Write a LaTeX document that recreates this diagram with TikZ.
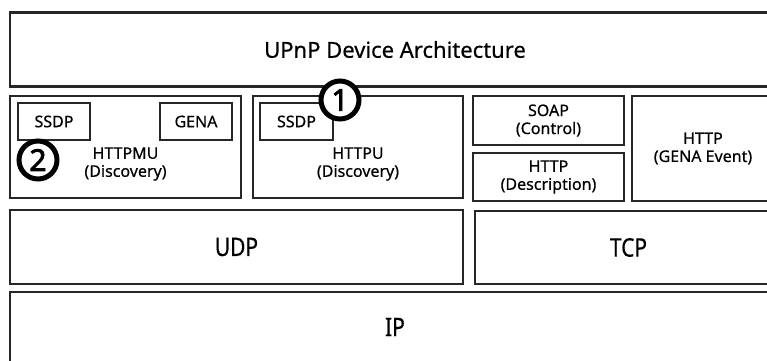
\documentclass[tikz,border=0pt]{standalone}
\usepackage{fontspec}
\setmainfont{Noto Sans}[BoldFont={Noto Sans}, BoldFeatures={FakeBold=0.5}]
\newfontfamily\markfont{Noto Sans}[BoldFont={Noto Sans}, BoldFeatures={FakeBold=2.6}]
\usepackage{graphicx}
\begin{document}
\begin{tikzpicture}[x=1pt,y=-1pt,
  layer/.style={draw=black!85, line width=2.8pt, rectangle, inner sep=0pt,
    align=center, font=\bfseries\fontsize{16}{18}\selectfont},
  sub/.style={layer, line width=2.3pt},
  label/.style={align=center, font=\bfseries\fontsize{16}{18}\selectfont},
  big/.style={font=\bfseries\fontsize{25.5}{28}\selectfont},
  marker/.style={circle, draw=black, fill=white, line width=5pt,
    minimum size=38pt, inner sep=0pt, font=\markfont\bfseries\fontsize{30}{30}\selectfont}]
\useasboundingbox (0,0) rectangle (767,360);
\clip (0,0) rectangle (767,360);

% application layer
\node[layer, minimum width=770pt, minimum height=74pt,
  font=\bfseries\fontsize{22}{24}\selectfont] (upnp) at (395,49.5) {UPnP Device Architecture};

% discovery, control, description and eventing
\node[layer, minimum width=231pt, minimum height=102pt] (httpmu) at (125.5,147) {};
\node[label] (httpmut) at (125.5,164) {HTTPMU\\(Discovery)};
\node[sub, minimum width=72pt, minimum height=37pt] (ssdpa) at (54,121.5) {SSDP};
\node[sub, minimum width=72pt, minimum height=37pt] (gena) at (196,121.5) {GENA};

\node[layer, minimum width=210pt, minimum height=102pt] (httpu) at (358,147) {};
\node[label] (httput) at (358,164) {HTTPU\\(Discovery)};
\node[sub, minimum width=73pt, minimum height=37pt] (ssdpb) at (296.5,121.5) {SSDP};

\node[layer, minimum width=151pt, minimum height=49pt] (soap) at (548.5,120.5) {SOAP\\(Control)};
\node[layer, minimum width=151pt, minimum height=48pt] (desc) at (548.5,177) {HTTP\\(Description)};
\node[layer, minimum width=142pt, minimum height=105pt] (event) at (703,148.5) {HTTP\\(GENA Event)};

% transport and network layers
\node[layer, big, minimum width=453pt, minimum height=74pt] (udp) at (236.5,247) {\scalebox{0.82}[1]{UDP}};
\node[layer, big, minimum width=307pt, minimum height=73pt] (tcp) at (628.5,247.5) {\scalebox{0.82}[1]{TCP}};
\node[layer, big, minimum width=770pt, minimum height=70pt] (ip) at (395,327) {\scalebox{0.82}[1]{IP}};

% numbered markers
\node[marker] (m1) at (340,100) {1};
\node[marker] (m2) at (38,160) {2};
\end{tikzpicture}
\end{document}
